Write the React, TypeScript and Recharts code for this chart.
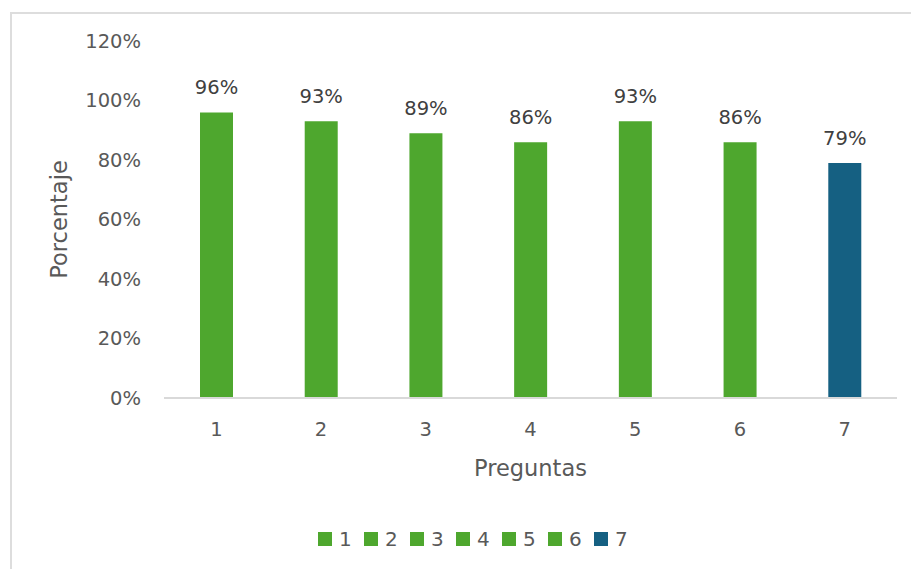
import React from 'react'
import { BarChart, Bar, XAxis, YAxis, Legend, LabelList, Cell, Label } from 'recharts'

const preguntas = ['1', '2', '3', '4', '5', '6', '7']
const porcentajes = [0.96, 0.93, 0.89, 0.86, 0.93, 0.86, 0.79]
const colores = ['#4ea72e', '#4ea72e', '#4ea72e', '#4ea72e', '#4ea72e', '#4ea72e', '#156082']
const yTicks = [0, 0.2, 0.4, 0.6, 0.8, 1, 1.2]

const data = preguntas.map((p, i) => ({ pregunta: p, valor: porcentajes[i] }))

const FONT = '"DejaVu Sans", sans-serif'
const pct = (v: number) => `${Math.round(v * 100)}%`

function LegendRow() {
  return (
    <div style={{ display: 'flex', alignItems: 'center', height: 24, fontFamily: FONT, fontSize: 20, color: '#595959' }}>
      {preguntas.map((p, i) => (
        <div key={p} style={{ display: 'flex', alignItems: 'center', width: i === preguntas.length - 1 ? 34 : 46 }}>
          <span style={{ display: 'inline-block', width: 14, height: 14, background: colores[i], marginRight: 7 }} />
          <span style={{ lineHeight: '24px' }}>{p}</span>
        </div>
      ))}
    </div>
  )
}

export default function App() {
  return (
    <div style={{ position: 'absolute', left: 0, top: 0, width: 911, height: 569, background: '#fff', overflow: 'hidden' }}>
      {/* chart frame, only top and left edges fall inside the view */}
      <div style={{ position: 'absolute', left: 10, top: 12, right: -4, bottom: -4, borderTop: '2px solid #dddddd', borderLeft: '2px solid #dddddd' }} />
      <BarChart
        width={911}
        height={569}
        data={data}
        margin={{ top: 41, right: 14, bottom: 18, left: 0 }}
        style={{ position: 'absolute', left: 0, top: 0 }}
      >
        <XAxis
          dataKey="pregunta"
          height={129}
          tickSize={0}
          tickMargin={24}
          axisLine={{ stroke: '#d9d9d9', strokeWidth: 2 }}
          tickLine={false}
          tick={{ fontSize: 19.5, fill: '#595959', fontFamily: FONT }}
        >
          <Label value="Preguntas" position="insideBottom" offset={51} style={{ fontSize: 22.5, fill: '#595959', fontFamily: FONT }} />
        </XAxis>
        <YAxis
          width={164}
          domain={[0, 1.2]}
          ticks={yTicks}
          tickFormatter={pct}
          tickSize={0}
          tickMargin={23}
          axisLine={false}
          tickLine={false}
          tick={{ fontSize: 19.5, fill: '#595959', fontFamily: FONT }}
        >
          <Label
            value="Porcentaje"
            angle={-90}
            position="insideLeft"
            offset={59}
            style={{ fontSize: 22.5, fill: '#595959', fontFamily: FONT, textAnchor: 'middle' }}
          />
        </YAxis>
        <Legend
          verticalAlign="bottom"
          content={() => <LegendRow />}
          wrapperStyle={{ left: 318, width: 310, bottom: 18 }}
        />
        <Bar dataKey="valor" barSize={33} isAnimationActive={false}>
          {data.map((d, i) => (
            <Cell key={d.pregunta} fill={colores[i]} />
          ))}
          <LabelList
            dataKey="valor"
            position="top"
            offset={18}
            formatter={(v: any) => pct(Number(v))}
            style={{ fontSize: 19.5, fill: '#404040', fontFamily: FONT }}
          />
        </Bar>
      </BarChart>
    </div>
  )
}
